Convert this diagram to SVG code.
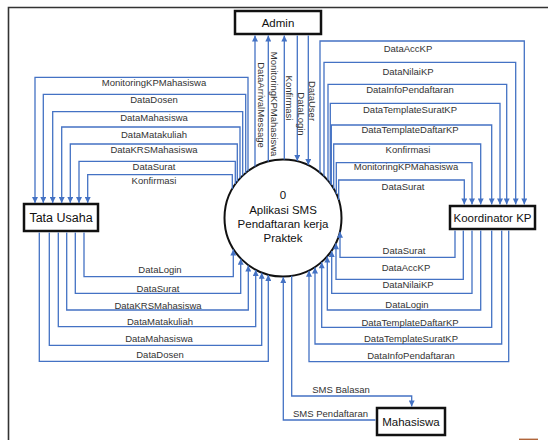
<svg xmlns="http://www.w3.org/2000/svg" width="548" height="440" viewBox="0 0 548 440">
<style>
.box{fill:#fff;stroke:#111;stroke-width:2.5}
.nt{font-family:"Liberation Sans",Arial,sans-serif;fill:#111;text-anchor:middle}
.fl{fill:none;stroke:#4472C4;stroke-width:1.3;marker-end:url(#ah)}
.ln{fill:none;stroke:#4472C4;stroke-width:1.3}
.lb{font-family:"Liberation Sans",Arial,sans-serif;font-size:9.5px;fill:#333;text-anchor:middle}
</style>
<defs>
<marker id="ah" viewBox="0 0 10 10" refX="10" refY="5" markerWidth="6.5" markerHeight="6" orient="auto" markerUnits="userSpaceOnUse">
<path d="M0,0 L10,5 L0,10 z" fill="#4472C4"/>
</marker>
</defs>
<rect width="548" height="440" fill="#fff"/>
<path d="M8.5,440 V7.5 H548" fill="none" stroke="#333" stroke-width="1.6"/>
<line x1="519" y1="439.3" x2="538" y2="439.3" stroke="#b0653a" stroke-width="1.4"/>

<g id="nodes">
<g id="process0">
<circle cx="283" cy="218" r="58.5" fill="#fff" stroke="#111" stroke-width="2"/>
<text class="nt" font-size="11.5" x="283" y="198.5">0</text>
<text class="nt" font-size="11.5" x="283" y="214">Aplikasi SMS</text>
<text class="nt" font-size="11.5" x="283" y="228">Pendaftaran kerja</text>
<text class="nt" font-size="11.5" x="283" y="242">Praktek</text>
</g>
<g id="admin">
<rect class="box" x="235" y="11" width="86" height="23"/>
<text class="nt" font-size="11.5" x="278" y="26.5">Admin</text>
</g>
<g id="tatausaha">
<rect class="box" x="24" y="204" width="74" height="27"/>
<text class="nt" font-size="12.5" x="61" y="222">Tata Usaha</text>
</g>
<g id="koordinator">
<rect class="box" x="450" y="206" width="85" height="23"/>
<text class="nt" font-size="11.5" x="492.5" y="221.5">Koordinator KP</text>
</g>
<g id="mahasiswa">
<rect class="box" x="377" y="408" width="68" height="27"/>
<text class="nt" font-size="11.5" x="411" y="425.5">Mahasiswa</text>
</g>
</g>

<g id="connectors">
<!-- process -> Tata Usaha -->
<path class="fl" d="M248,171.1 V77.3 H35 V203"/>
<path class="fl" d="M245.7,172.9 V94.3 H43.3 V203"/>
<path class="fl" d="M242.7,175.6 V111.7 H52.7 V203"/>
<path class="fl" d="M240,178.3 V127 H61.7 V203"/>
<path class="fl" d="M237.3,181.5 V144 H70.3 V203"/>
<path class="fl" d="M235.3,184.1 V161.3 H79 V203"/>
<path class="fl" d="M232.3,188.8 V174.7 H87.7 V203"/>
<text class="lb" x="154" y="86">MonitoringKPMahasiswa</text>
<text class="lb" x="154" y="103.3">DataDosen</text>
<text class="lb" x="154" y="120.6">DataMahasiswa</text>
<text class="lb" x="154" y="138">DataMatakuliah</text>
<text class="lb" x="154" y="153">DataKRSMahasiswa</text>
<text class="lb" x="154" y="170">DataSurat</text>
<text class="lb" x="154" y="183.6">Konfirmasi</text>

<!-- process <-> Admin -->
<path class="fl" d="M255,166.6 V35.5"/>
<path class="fl" d="M268.3,161.4 V35.5"/>
<path class="fl" d="M284.3,159.5 V35.5"/>
<path class="fl" d="M297.3,35.5 V161"/>
<path class="fl" d="M308.3,35.5 V165"/>
<text class="lb" transform="translate(261.7,105) rotate(90)" y="3.3">DataArrivalMessage</text>
<text class="lb" transform="translate(274.3,104) rotate(90)" y="3.3">MonitoringKPMahasiswa</text>
<text class="lb" transform="translate(289.5,98) rotate(90)" y="3.3">Konfirmasi</text>
<text class="lb" transform="translate(301.5,114) rotate(90)" y="3.3">DataLogin</text>
<text class="lb" transform="translate(312,101) rotate(90)" y="3.3">DataUser</text>

<!-- process -> Koordinator KP -->
<path class="fl" d="M320,172.7 V41 H524.3 V204.5"/>
<path class="fl" d="M324,176.3 V62.3 H515.7 V204.5"/>
<path class="fl" d="M328,180.6 V84.3 H506.7 V204.5"/>
<path class="fl" d="M330.3,183.6 V103.3 H500 V204.5"/>
<path class="fl" d="M331.3,185 V125 H491.7 V204.5"/>
<path class="fl" d="M333.7,188.8 V144 H480.7 V204.5"/>
<path class="fl" d="M336.3,193.9 V162.7 H472 V204.5"/>
<path class="fl" d="M338.7,200.1 V180 H464.3 V204.5"/>
<text class="lb" x="408" y="51.6">DataAccKP</text>
<text class="lb" x="408" y="75">DataNilaiKP</text>
<text class="lb" x="410" y="93.3">DataInfoPendaftaran</text>
<text class="lb" x="410" y="113.3">DataTemplateSuratKP</text>
<text class="lb" x="410" y="132.6">DataTemplateDaftarKP</text>
<text class="lb" x="408" y="153">Konfirmasi</text>
<text class="lb" x="406" y="170">MonitoringKPMahasiswa</text>
<text class="lb" x="403" y="190">DataSurat</text>

<!-- Tata Usaha -> process -->
<path class="fl" d="M84,232.5 V276.7 H233.3 V249.5"/>
<path class="fl" d="M75.3,232.5 V293.3 H240.7 V258.8"/>
<path class="fl" d="M66.7,232.5 V310 H248.3 V265.5"/>
<path class="fl" d="M58.3,232.5 V326.7 H255.7 V270"/>
<path class="fl" d="M49.3,232.5 V345.3 H261.7 V272.8"/>
<path class="fl" d="M39.3,232.5 V361.3 H268.3 V274.9"/>
<text class="lb" x="160" y="273.3">DataLogin</text>
<text class="lb" x="158" y="291.6">DataSurat</text>
<text class="lb" x="158" y="309.3">DataKRSMahasiswa</text>
<text class="lb" x="160" y="325">DataMatakuliah</text>
<text class="lb" x="159" y="342">DataMahasiswa</text>
<text class="lb" x="160" y="358.3">DataDosen</text>

<!-- Koordinator KP -> process -->
<path class="fl" d="M455,230.5 V257.3 H340 V231.8"/>
<path class="fl" d="M463.3,230.5 V279.3 H336 V243.3"/>
<path class="fl" d="M472,230.5 V293.3 H331.7 V250.9"/>
<path class="fl" d="M480.7,230.5 V310 H327.3 V256.6"/>
<path class="fl" d="M491.7,230.5 V327.3 H321.7 V262.3"/>
<path class="fl" d="M501.7,230.5 V344 H315 V267.4"/>
<path class="fl" d="M508.7,230.5 V361.7 H309 V270.8"/>
<text class="lb" x="404" y="254.3">DataSurat</text>
<text class="lb" x="406" y="271.3">DataAccKP</text>
<text class="lb" x="408" y="288.3">DataNilaiKP</text>
<text class="lb" x="407" y="307.6">DataLogin</text>
<text class="lb" x="410" y="326">DataTemplateDaftarKP</text>
<text class="lb" x="411" y="341.6">DataTemplateSuratKP</text>
<text class="lb" x="411" y="359.3">DataInfoPendaftaran</text>

<!-- process <-> Mahasiswa -->
<path class="fl" d="M291.7,275.8 V396 H411.7 V406.5"/>
<path class="fl" d="M375.5,420 H283.3 V277"/>
<text class="lb" x="341" y="393.3">SMS Balasan</text>
<text class="lb" x="330.5" y="416.6">SMS Pendaftaran</text>
</g>
</svg>
